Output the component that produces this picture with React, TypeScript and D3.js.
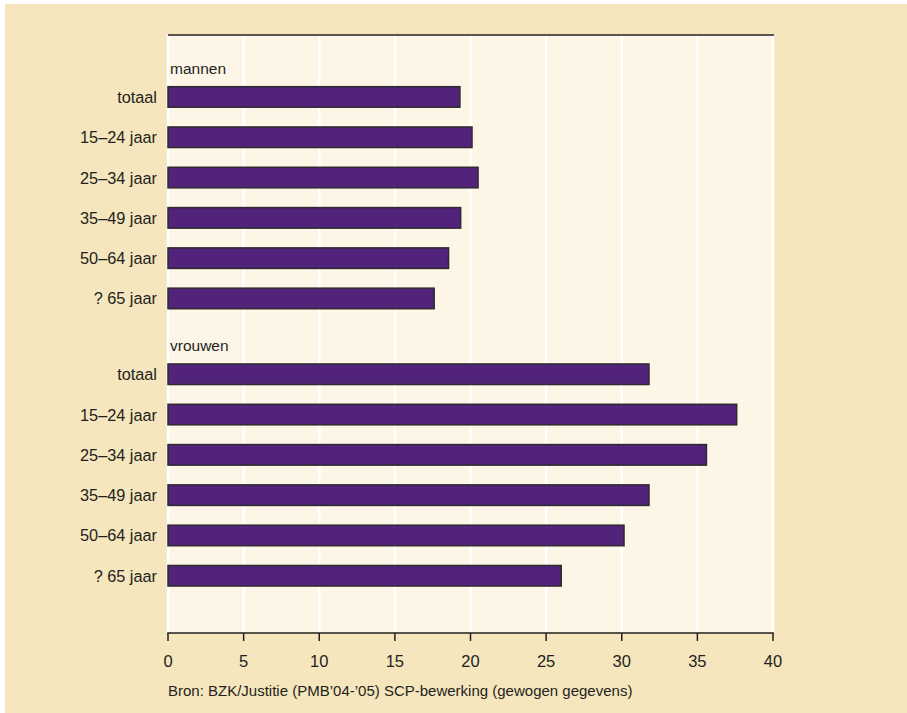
import React from "react";
import * as d3 from "d3";

const groups = ["mannen", "vrouwen"];
const categories = ["totaal", "15–24 jaar", "25–34 jaar", "35–49 jaar", "50–64 jaar", "? 65 jaar"];
const mannenValues = [19.3, 20.1, 20.5, 19.35, 18.55, 17.6];
const vrouwenValues = [31.8, 37.6, 35.6, 31.8, 30.15, 26.0];
const xTicks = [0, 5, 10, 15, 20, 25, 30, 35, 40];
const source = "Bron: BZK/Justitie (PMB’04-’05) SCP-bewerking (gewogen gegevens)";

const W = 907;
const H = 713;
const FONT = "'Liberation Sans', Arial, sans-serif";

export default function App() {
  const x = d3.scaleLinear().domain([0, 40]).range([168, 773]);
  const step = 40.3;
  const yM = d3
    .scaleBand<string>()
    .domain(categories)
    .range([76.8, 76.8 + step * 6])
    .paddingInner(0.49)
    .paddingOuter(0.245);
  const yV = d3
    .scaleBand<string>()
    .domain(categories)
    .range([354.1, 354.1 + step * 6])
    .paddingInner(0.49)
    .paddingOuter(0.245);

  const sets = [
    { name: groups[0], values: mannenValues, y: yM },
    { name: groups[1], values: vrouwenValues, y: yV },
  ];
  const top = 35;
  const axisY = 633;

  return (
    <svg
      width={W}
      height={H}
      style={{ position: "absolute", left: 0, top: 0, display: "block" }}
      fontFamily={FONT}
    >
      <rect x={0} y={0} width={W} height={H} fill="#ffffff" />
      <rect x={5} y={4} width={W - 5} height={H - 4} fill="#f5e6bd" />
      <rect x={x(0)} y={top} width={x(40) - x(0) + 1} height={axisY - top} fill="#fdf6e7" />
      {xTicks.map((t) => (
        <line key={"g" + t} x1={x(t)} x2={x(t)} y1={top} y2={axisY} stroke="#ffffff" strokeWidth={2.5} />
      ))}
      <line x1={x(0)} x2={x(40) + 1} y1={top} y2={top} stroke="#231f20" strokeWidth={1.6} />
      {sets.map((s) => (
        <g key={s.name}>
          <text
            x={x(0) + 2}
            y={(s.y(categories[0]) as number) - 12.5}
            fontSize={15.5}
            fill="#231f20"
          >
            {s.name}
          </text>
          {categories.map((c, i) => {
            const yy = s.y(c) as number;
            const bh = s.y.bandwidth();
            return (
              <g key={c}>
                <rect
                  x={x(0)}
                  y={yy}
                  width={x(s.values[i]) - x(0)}
                  height={bh}
                  fill="#52237a"
                  stroke="#2f2a30"
                  strokeWidth={1.5}
                />
                <text
                  x={157}
                  y={yy + bh / 2}
                  dy="0.37em"
                  textAnchor="end"
                  fontSize={16.3}
                  fill="#231f20"
                >
                  {c}
                </text>
              </g>
            );
          })}
        </g>
      ))}
      <line x1={x(0) - 0.75} x2={x(40) + 0.75} y1={axisY} y2={axisY} stroke="#231f20" strokeWidth={1.5} />
      {xTicks.map((t) => (
        <g key={"t" + t}>
          <line x1={x(t)} x2={x(t)} y1={axisY} y2={axisY + 8} stroke="#231f20" strokeWidth={1.5} />
          <text x={x(t)} y={667} textAnchor="middle" fontSize={16.5} fill="#231f20">
            {t}
          </text>
        </g>
      ))}
      <text x={x(0)} y={696} fontSize={15} fill="#231f20">
        {source}
      </text>
    </svg>
  );
}
